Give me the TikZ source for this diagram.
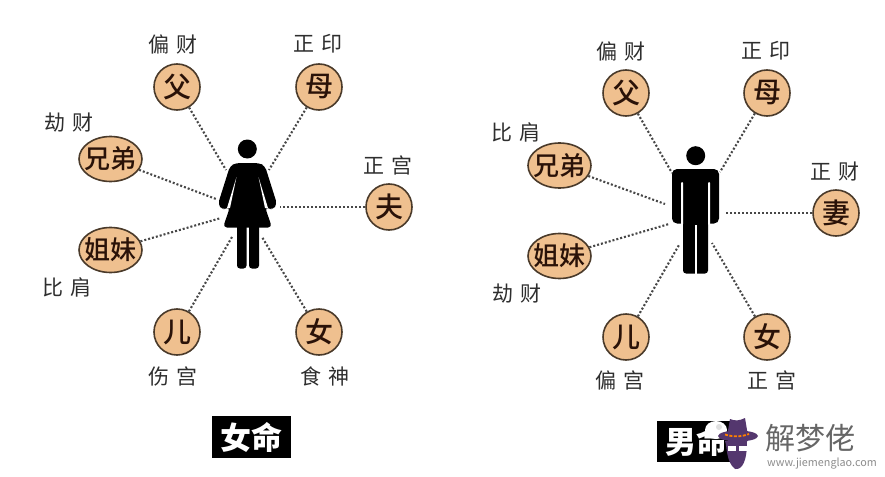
\documentclass[tikz,border=0pt]{standalone}
\usepackage{fontspec}
\setmainfont{Noto Sans CJK SC}
\newfontfamily\midfont{Noto Sans CJK SC Medium}
\definecolor{peach}{HTML}{EFC08F}
\definecolor{ringc}{HTML}{4A3A2A}
\definecolor{inkc}{HTML}{2A1208}
\definecolor{labelc}{HTML}{2E2E2E}
\definecolor{hatc}{HTML}{54376E}
\tikzset{
  kin/.style={circle,draw=ringc,line width=1.6pt,fill=peach,minimum size=46pt,inner sep=0pt,text=inkc,font=\midfont\fontsize{28}{28}\selectfont},
  kinwide/.style={ellipse,draw=ringc,line width=1.6pt,fill=peach,minimum width=63pt,minimum height=45pt,inner sep=0pt,text=inkc,font=\midfont\fontsize{26}{26}\selectfont},
  godlabel/.style={text=labelc,font=\fontsize{21}{22}\selectfont,inner sep=0pt},
  tie/.style={line width=2.1pt,dash pattern=on 2pt off 2pt,draw=black!72},
  figurefill/.style={fill=black,draw=none},
  banner/.style={fill=black,text=white,inner sep=0pt,font=\fontsize{31}{31}\selectfont\bfseries}
}
\usetikzlibrary{shapes.geometric}
\newcommand{\wide}[2]{\makebox[0pt][c]{#1#2}}
\newcommand{\spaced}[2]{#1\hspace{8pt}#2}
\begin{document}
\begin{tikzpicture}[x=1pt,y=-1pt]
\useasboundingbox (0,0) rectangle (885,476);
% ---- woman panel
\node[kin] (wf) at (177,87) {父};
\node[kin] (wm) at (319,87) {母};
\node[kinwide] (wb) at (110.5,159) {\wide{兄}{弟}};
\node[kinwide] (ws) at (110.5,250) {\wide{姐}{妹}};
\node[kin] (wh) at (389,207) {夫};
\node[kin] (wson) at (177,332) {儿};
\node[kin] (wd) at (319,332) {女};
\node[godlabel] (l1) at (173,44) {\spaced{偏}{财}};
\node[godlabel] (l2) at (318,44) {\spaced{正}{印}};
\node[godlabel] (l3) at (69,123) {\spaced{劫}{财}};
\node[godlabel] (l4) at (388,165) {\spaced{正}{宫}};
\node[godlabel] (l5) at (67,287) {\spaced{比}{肩}};
\node[godlabel] (l6) at (173,376) {\spaced{伤}{宫}};
\node[godlabel] (l7) at (325,376) {\spaced{食}{神}};
\coordinate (wa) at (226,170);
\coordinate (wbb) at (269,170);
\coordinate (wc) at (216,199);
\coordinate (wdd) at (221,218);
\coordinate (we) at (280,207);
\coordinate (wg) at (232,237);
\coordinate (wi) at (262,237);
\draw[tie] (wf) -- (wa);
\draw[tie] (wm) -- (wbb);
\draw[tie] (wb) -- (wc);
\draw[tie] (ws) -- (wdd);
\draw[tie] (wh) -- (we);
\draw[tie] (wson) -- (wg);
\draw[tie] (wd) -- (wi);
% woman figure
\fill[figurefill] (247.3,149) circle (9.5);
\fill[figurefill,rounded corners=4pt] (236,163) -- (259,163) -- (265,166) -- (277,204) -- (273,210) -- (268,208) -- (265,207) -- (272,227.5) -- (223,227.5) -- (230,207) -- (227,208) -- (222,210) -- (218,204) -- (230,166) -- cycle;
\fill[white] (236.5,177) -- (227,208) -- (230,208) -- cycle;
\fill[white] (258.5,177) -- (268,208) -- (265,208) -- cycle;
\fill[figurefill,rounded corners=3pt] (237,222) rectangle (246.5,268.5);
\fill[figurefill,rounded corners=3pt] (249,222) rectangle (259,268.5);
\node[banner,minimum width=79pt,minimum height=42pt] (wt) at (251.5,437) {女命};
% ---- man panel
\node[kin] (mf) at (626,93) {父};
\node[kin] (mm) at (767,93) {母};
\node[kinwide] (mb) at (559.5,165.5) {\wide{兄}{弟}};
\node[kinwide] (ms) at (559.5,256) {\wide{姐}{妹}};
\node[kin] (mw) at (836,213) {妻};
\node[kin] (mson) at (626,337) {儿};
\node[kin] (md) at (767,337) {女};
\node[godlabel] (r1) at (621,51) {\spaced{偏}{财}};
\node[godlabel] (r2) at (766,51) {\spaced{正}{印}};
\node[godlabel] (r3) at (516,132) {\spaced{比}{肩}};
\node[godlabel] (r4) at (835,172) {\spaced{正}{财}};
\node[godlabel] (r5) at (517,294) {\spaced{劫}{财}};
\node[godlabel] (r6) at (620,380) {\spaced{偏}{宫}};
\node[godlabel] (r7) at (772,380) {\spaced{正}{宫}};
\coordinate (ma) at (672,173);
\coordinate (mbb) at (720,172);
\coordinate (mc) at (665,204);
\coordinate (mdd) at (669,224);
\coordinate (me) at (725,213);
\coordinate (mg) at (679,245);
\coordinate (mi) at (712,243);
\draw[tie] (mf) -- (ma);
\draw[tie] (mm) -- (mbb);
\draw[tie] (mb) -- (mc);
\draw[tie] (ms) -- (mdd);
\draw[tie] (mw) -- (me);
\draw[tie] (mson) -- (mg);
\draw[tie] (md) -- (mi);
% man figure
\fill[figurefill] (695.7,155.7) circle (9.5);
\fill[figurefill,rounded corners=5pt] (672,223.5) rectangle (719,169);
\fill[figurefill,rounded corners=3pt] (683,215) rectangle (708,273.5);
\fill[white,rounded corners=1pt] (681,182) rectangle (683,225);
\fill[white,rounded corners=1pt] (708,182) rectangle (710,225);
\fill[white] (695,225) rectangle (697,275);
\node[banner,minimum width=78pt,minimum height=41pt] (mt) at (696,441.5) {男命};
% ---- watermark
\fill[white] (716,430) ellipse (11 and 9);
\fill[black!12] (719,427) circle (3);
\fill[hatc] (725,441) .. controls (727,446) and (726,462) .. (735,469) .. controls (742,470) and (747,462) .. (747,441) -- cycle;
\fill[white] (728,446) rectangle (736,451);
\fill[white] (739,446) rectangle (747,451);
\fill[hatc] (727,436) -- (730,419) .. controls (735,421) and (739,421) .. (745,418) -- (748,436) -- cycle;
\fill[hatc] (738,436) ellipse (20 and 5.5);
\draw[orange,line width=1.8pt,dash pattern=on 3pt off 1.5pt] (725,434.5) .. controls (733,437) and (741,437) .. (749,434);
\node[text=black!60,font=\fontsize{30}{30}\selectfont,inner sep=0pt] (wmk) at (810,438) {解梦佬};
\node[text=black!45,font=\fontsize{10.8}{11}\selectfont,inner sep=0pt] (wurl) at (822,464) {www.jiemenglao.com};
\end{tikzpicture}
\end{document}
